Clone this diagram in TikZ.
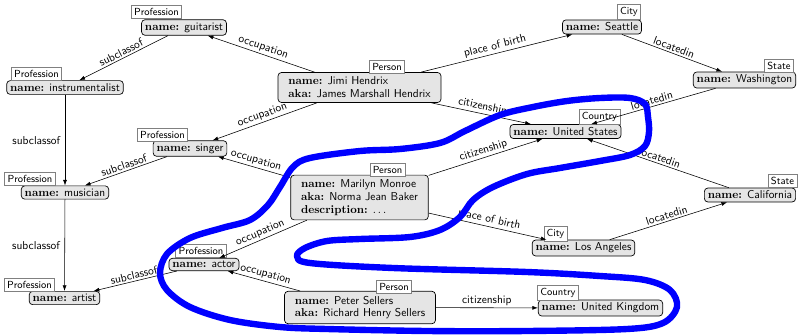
\documentclass[tikz,border=0pt]{standalone}
\usetikzlibrary{arrows.meta}
\newcommand\fieldval[2]{\textbf{#1:} \textsf{#2}}
\begin{document}
\begin{tikzpicture}[x=0.877pt,y=-0.877pt,
  entity/.style={draw=black, line width=0.6pt, fill=gray!20, rounded corners=3pt,
    inner xsep=3pt, inner ysep=2.5pt, align=left, font=\fontsize{10}{11.2}\selectfont},
  person/.style={entity, inner xsep=9pt, inner ysep=4pt},
  tag/.style={draw=gray, fill=white, line width=0.5pt, font=\sffamily\small, inner sep=2.5pt},
  rel/.style={-{Latex[length=5pt,width=3.5pt]}, line width=0.5pt},
  lbl/.style={font=\sffamily, sloped, above, inner sep=1.5pt},
  vlbl/.style={font=\sffamily, left, inner sep=4pt},
]
\useasboundingbox (0,0) rectangle (800,335);

% entities
\node[entity] (guitarist) at (184,27.5) {\fieldval{name}{guitarist}};
\node[entity] (instr) at (65,87.5) {\fieldval{name}{instrumentalist}};
\node[person] (jimi) at (359.5,87.5) {\fieldval{name}{Jimi Hendrix}\\ \fieldval{aka}{James Marshall Hendrix}};
\node[entity] (seattle) at (602,27) {\fieldval{name}{Seattle}};
\node[entity] (washington) at (744.5,80) {\fieldval{name}{Washington}};
\node[entity] (singer) at (190,148.5) {\fieldval{name}{singer}};
\node[entity] (musician) at (65,192.5) {\fieldval{name}{musician}};
\node[entity] (us) at (565.5,131.5) {\fieldval{name}{United States}};
\node[person] (marilyn) at (359.5,197.5) {\fieldval{name}{Marilyn Monroe}\\ \fieldval{aka}{Norma Jean Baker}\\ \textbf{description:} $\ldots$};
\node[entity] (california) at (750,195) {\fieldval{name}{California}};
\node[entity] (la) at (583.5,248) {\fieldval{name}{Los Angeles}};
\node[entity] (actor) at (204,264.5) {\fieldval{name}{actor}};
\node[entity] (artist) at (64.5,298) {\fieldval{name}{artist}};
\node[person] (peter) at (360,307.5) {\fieldval{name}{Peter Sellers}\\ \fieldval{aka}{Richard Henry Sellers}};
\node[entity] (uk) at (600.5,308) {\fieldval{name}{United Kingdom}};

% type tags
\node[tag] (tguitarist) at (156.5,11.5) {Profession};
\node[tag] (tinstr) at (36.5,74) {Profession};
\node[tag] (tjimi) at (387,67) {Person};
\node[tag] (tseattle) at (629,12) {City};
\node[tag] (twashington) at (779,66) {State};
\node[tag] (tsinger) at (162.5,135) {Profession};
\node[tag] (tmusician) at (30,179) {Profession};
\node[tag] (tus) at (599.5,117) {Country};
\node[tag] (tmarilyn) at (387.5,169.5) {Person};
\node[tag] (tcalifornia) at (782.5,181) {State};
\node[tag] (tla) at (555.5,233.5) {City};
\node[tag] (tactor) at (201,251) {Profession};
\node[tag] (tartist) at (29.5,285) {Profession};
\node[tag] (tpeter) at (394,286.5) {Person};
\node[tag] (tuk) at (558,293) {Country};

% relations
\draw[rel] (jimi) -- node[lbl] {occupation} (guitarist);
\draw[rel] (jimi) -- node[lbl] {occupation} (singer);
\draw[rel] (jimi) -- node[lbl] {place of birth} (seattle);
\draw[rel] (jimi) -- node[lbl] {citizenship} (us);
\draw[rel] (guitarist) -- node[lbl] {subclassof} (instr);
\draw[rel] (instr) -- node[vlbl] {subclassof} (musician);
\draw[rel] (musician) -- node[vlbl] {subclassof} (artist);
\draw[rel] (singer) -- node[lbl] {subclassof} (musician);
\draw[rel] (actor) -- node[lbl] {subclassof} (artist);
\draw[rel] (seattle) -- node[lbl] {locatedin} (washington);
\draw[rel] (washington) -- node[lbl] {locatedin} (us);
\draw[rel] (california) -- node[lbl] {locatedin} (us);
\draw[rel] (la) -- node[lbl] {locatedin} (california);
\draw[rel] (marilyn) -- node[lbl] {occupation} (singer);
\draw[rel] (marilyn) -- node[lbl] {occupation} (actor);
\draw[rel] (marilyn) -- node[lbl] {citizenship} (us);
\draw[rel] (marilyn) -- node[lbl] {place of birth} (la);
\draw[rel] (peter) -- node[lbl] {occupation} (actor);
\draw[rel] (peter) -- node[lbl] {citizenship} (uk);

% highlighted region
\draw[blue, line width=5.6pt, line join=round] plot[smooth cycle, tension=0.55] coordinates {
  (645,104) (630,98) (600,98) (567,101) (533,107) (500,115) (465,131) (440,143)
  (400,149) (360,151) (310,158) (293,167) (280,187) (268,205) (250,220) (222,228)
  (190,238) (167,254) (160,273) (167,290) (190,307) (230,320) (280,327) (327,329)
  (427,331) (527,331) (627,329) (663,323) (677,307) (670,290) (645,280) (600,276)
  (527,272) (393,268) (310,263) (297,256) (305,248) (327,241) (360,239) (410,237)
  (440,230) (460,217) (473,200) (493,187) (527,174) (560,168) (600,161) (630,155)
  (645,146) (649,132) (648,117)};
\end{tikzpicture}
\end{document}
